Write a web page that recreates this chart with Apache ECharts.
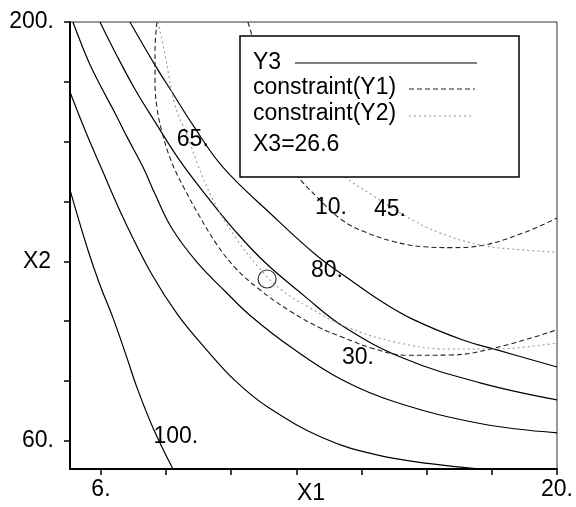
<!DOCTYPE html>
<html>
<head>
<meta charset="utf-8">
<script src="https://cdn.jsdelivr.net/npm/echarts@6/dist/echarts.min.js"></script>
<style>
html, body { margin: 0; padding: 0; background: #fff; }
#main { width: 576px; height: 507px; }
</style>
</head>
<body>
<div id="main"></div>
<script>
// axis ticks / labels
const xTicks = [6, 8, 10, 12, 14, 16, 18, 20];
const xLabels = [6, 20];
const yTicks = [60, 80, 100, 120, 140, 160, 180, 200];
const yLabels = [60, 200];

// Y3 contours, [X1, X2]
const y3A = [[5.05, 143.9], [5.60, 123.8], [5.97, 112.1], [6.37, 101.1], [6.80, 87.7], [7.10, 78.0], [7.60, 64.3], [8.21, 50.6]];
const y3B = [[5.05, 176.6], [5.51, 163.9], [5.97, 152.2], [6.74, 133.2], [7.57, 115.5], [8.36, 102.1], [9.19, 91.1], [10.11, 80.2], [11.13, 71.2], [12.88, 60.7], [14.47, 55.3], [16.10, 52.4], [17.64, 50.6]];
const y3C = [[5.14, 200], [5.60, 187.3], [5.97, 179.0], [6.43, 169.6], [6.80, 161.6], [7.29, 151.5], [7.66, 142.5], [8.18, 131.0], [8.98, 119.3], [9.81, 110.0], [10.57, 102.0], [11.86, 91.1], [13.40, 80.4], [15.03, 73.0], [17.64, 65.8], [20, 62.7]];
const y3D = [[5.97, 200], [6.43, 190.0], [7.04, 177.6], [7.66, 166.6], [8.40, 154.0], [9.29, 141.2], [10.11, 130.3], [11.04, 119.6], [12.26, 108.3], [13.43, 98.3], [15.27, 87.7], [17.64, 79.4], [20, 73.7]];
const y3E = [[6.89, 200], [7.66, 185.6], [8.18, 176.6], [8.82, 165.6], [9.75, 151.4], [11.25, 135.5], [12.66, 121.6], [13.55, 114.6], [14.57, 106.9], [15.58, 100.6], [17.11, 93.7], [18.16, 90.4], [20, 84.7]];

// constraint(Y1), dashed
const y1Low = [[7.72, 200], [7.66, 190.6], [7.66, 180.6], [7.72, 171.3], [7.90, 162.2], [8.18, 152.9], [8.58, 143.9], [9.04, 134.8], [9.56, 125.6], [10.11, 118.0], [10.82, 111.0], [11.80, 103.4], [12.72, 97.8], [13.40, 94.7], [14.41, 90.7], [15.40, 88.6], [16.72, 88.7], [18.04, 90.9], [20, 97.1]];
const y1High = [[10.51, 200], [10.64, 195.3], [11.34, 163.9], [11.96, 149.9], [12.66, 141.2], [13.40, 133.8], [14.11, 129.8], [15.03, 126.5], [15.89, 124.9], [16.80, 124.6], [17.64, 125.2], [18.96, 129.5], [20, 134.5]];

// constraint(Y2), dotted
const y2Low = [[7.75, 200], [7.97, 189.0], [8.27, 172.3], [8.64, 162.2], [8.95, 153.0], [9.41, 141.2], [10.11, 128.3], [10.82, 118.3], [11.50, 110.8], [12.42, 104.4], [13.55, 98.0], [15.09, 92.9], [16.62, 90.7], [18.04, 90.7], [20, 92.7]];
const y2High = [[12.72, 160.6], [13.34, 149.9], [14.32, 142.2], [15.40, 134.8], [16.41, 129.5], [17.64, 125.5], [18.96, 123.8], [20, 123.1]];

// optimum point
const optimum = [[11.10, 114.1]];

// contour labels
const contourLabels = [
  { name: '65.', value: [8.82, 160.6] },
  { name: '80.', value: [12.94, 116.8] },
  { name: '100.', value: [8.30, 61.3] },
  { name: '10.', value: [13.06, 137.8] },
  { name: '45.', value: [14.87, 137.2] },
  { name: '30.', value: [13.89, 87.7] }
];

const font = 'Liberation Sans, Arial, Helvetica, sans-serif';

function contour(data, kind) {
  let lineStyle = { color: '#000', width: 1.2, type: 'solid' };
  if (kind === 'dash') lineStyle = { color: '#222', width: 1.1, type: [5, 3] };
  if (kind === 'dot') lineStyle = { color: '#999', width: 1.1, type: [2, 3] };
  return {
    type: 'line',
    data: data,
    smooth: 0.4,
    showSymbol: false,
    silent: true,
    clip: true,
    lineStyle: lineStyle
  };
}

var chart = echarts.init(document.getElementById('main'));
var option = {
  animation: false,
  backgroundColor: '#fff',
  grid: {
    left: 70, top: 22, right: 19, bottom: 38,
    outerBoundsMode: 'none', containLabel: false,
    show: true, borderColor: '#333', borderWidth: 1
  },
  xAxis: {
    type: 'value',
    min: 5.05,
    max: 20,
    axisLine: { show: true, onZero: false, lineStyle: { color: '#000', width: 2 } },
    axisTick: { show: true, customValues: xTicks, length: 6, lineStyle: { color: '#000', width: 1.5 } },
    axisLabel: { customValues: xLabels, formatter: v => v + '.', fontSize: 23, color: '#000', margin: 9, fontFamily: font },
    splitLine: { show: false }
  },
  yAxis: {
    type: 'value',
    min: 50.6,
    max: 200,
    axisLine: { show: true, onZero: false, lineStyle: { color: '#000', width: 2 } },
    axisTick: { show: true, customValues: yTicks, length: 6, lineStyle: { color: '#000', width: 1.5 } },
    axisLabel: { customValues: yLabels, formatter: v => v + '.', fontSize: 23, color: '#000', margin: 16, fontFamily: font },
    splitLine: { show: false }
  },
  series: [
    contour(y3A, 'solid'),
    contour(y3B, 'solid'),
    contour(y3C, 'solid'),
    contour(y3D, 'solid'),
    contour(y3E, 'solid'),
    contour(y1Low, 'dash'),
    contour(y1High, 'dash'),
    contour(y2Low, 'dot'),
    contour(y2High, 'dot'),
    {
      type: 'scatter',
      data: optimum,
      symbol: 'circle',
      symbolSize: 18,
      silent: true,
      itemStyle: { color: 'rgba(0,0,0,0)', borderColor: '#000', borderWidth: 1.2 }
    },
    {
      type: 'scatter',
      data: contourLabels,
      symbolSize: 0,
      silent: true,
      z: 5,
      itemStyle: { color: '#000' },
      label: {
        show: true,
        position: 'inside',
        formatter: p => p.name,
        fontSize: 23,
        color: '#000',
        opacity: 1,
        textBorderWidth: 0,
        fontFamily: font
      }
    }
  ],
  graphic: [
    { type: 'text', x: 311, y: 494, z: 100, style: { text: 'X1', fontSize: 23, fill: '#000', fontFamily: font, align: 'center', verticalAlign: 'middle' } },
    { type: 'text', x: 37, y: 262, z: 100, style: { text: 'X2', fontSize: 23, fill: '#000', fontFamily: font, align: 'center', verticalAlign: 'middle' } },
    { type: 'rect', z: 100, shape: { x: 240, y: 36, width: 279, height: 141 }, style: { fill: '#fff', stroke: '#000', lineWidth: 1.5 } },
    { type: 'text', z: 101, x: 253, y: 63, style: { text: 'Y3', fontSize: 23, fill: '#000', fontFamily: font, verticalAlign: 'middle' } },
    { type: 'text', z: 101, x: 253, y: 88, style: { text: 'constraint(Y1)', fontSize: 23, fill: '#000', fontFamily: font, verticalAlign: 'middle' } },
    { type: 'text', z: 101, x: 253, y: 114, style: { text: 'constraint(Y2)', fontSize: 23, fill: '#000', fontFamily: font, verticalAlign: 'middle' } },
    { type: 'text', z: 101, x: 253, y: 145, style: { text: 'X3=26.6', fontSize: 23, fill: '#000', fontFamily: font, verticalAlign: 'middle' } },
    { type: 'line', z: 101, shape: { x1: 295, y1: 63, x2: 477, y2: 63 }, style: { stroke: '#000', lineWidth: 1.2 } },
    { type: 'line', z: 101, shape: { x1: 409, y1: 89, x2: 475, y2: 89 }, style: { stroke: '#222', lineWidth: 1.1, lineDash: [5, 3] } },
    { type: 'line', z: 101, shape: { x1: 409, y1: 116, x2: 472, y2: 116 }, style: { stroke: '#999', lineWidth: 1.1, lineDash: [2, 3] } }
  ]
};
option && chart.setOption(option);
</script>
</body>
</html>
